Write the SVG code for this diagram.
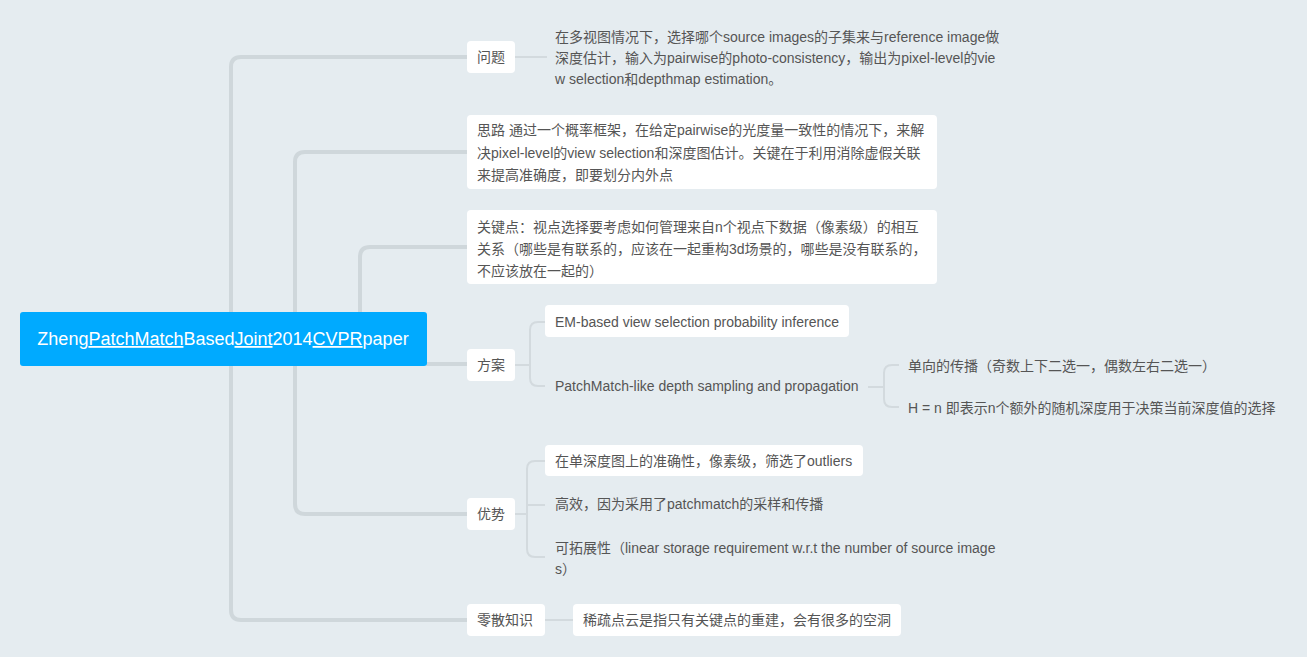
<svg xmlns="http://www.w3.org/2000/svg" width="1307" height="657" viewBox="0 0 1307 657">
<style>
.t{font-family:"Liberation Sans","Noto Sans CJK SC",sans-serif;font-size:14px;fill:#555555}
.box{fill:#ffffff}
.main{fill:none;stroke:#CFD7DB;stroke-width:4;stroke-linecap:round}
.sub{fill:none;stroke:#D3DADE;stroke-width:2}
.root-t{font-family:"Liberation Sans","Noto Sans CJK SC",sans-serif;font-size:18px;fill:#ffffff}
</style>
<rect width="1307" height="657" fill="#E5ECF0"/>
<g id="connectors">
<path class="main" d="M467,57 H241 Q231,57 231,67 V610 Q231,620 241,620 H467"/>
<path class="main" d="M467,152 H305 Q295,152 295,162 V504 Q295,514 305,514 H467"/>
<path class="main" d="M467,247 H370 Q360,247 360,257 V314"/>
<path class="main" d="M427,364 H467"/>
<path class="sub" d="M515,57 H547"/>
<path class="sub" d="M515,365 H530 M545,322 H538 Q530,322 530,330 V378 Q530,386 538,386 H545"/>
<path class="sub" d="M868,387 H884 M899,365 H892 Q884,365 884,373 V399 Q884,407 892,407 H899"/>
<path class="sub" d="M515,514 H527 M545,461 H535 Q527,461 527,469 V549 Q527,557 535,557 H545 M527,505 H545"/>
<path class="sub" d="M545,620 H573"/>
</g>
<g id="root">
<rect x="20" y="312" width="407" height="54" rx="3" fill="#00AAFF"/>
<text class="root-t" x="223" y="345" text-anchor="middle">Zheng<tspan text-decoration="underline">PatchMatch</tspan>Based<tspan text-decoration="underline">Joint</tspan>2014<tspan text-decoration="underline">CVPR</tspan>paper</text>
</g>
<g id="wenti">
<rect class="box" x="467" y="41" width="48" height="32" rx="4"/>
<text class="t" x="477" y="62">问题</text>
</g>
<g id="wenti-detail">
<text class="t" x="555" y="42">在多视图情况下，选择哪个source images的子集来与reference image做</text>
<text class="t" x="555" y="63">深度估计，输入为pairwise的photo-consistency，输出为pixel-level的vie</text>
<text class="t" x="555" y="84">w selection和depthmap estimation。</text>
</g>
<g id="silu">
<rect class="box" x="467" y="115" width="470" height="74" rx="4"/>
<text class="t" x="477" y="135">思路 通过一个概率框架，在给定pairwise的光度量一致性的情况下，来解</text>
<text class="t" x="477" y="158">决pixel-level的view selection和深度图估计。关键在于利用消除虚假关联</text>
<text class="t" x="477" y="180">来提高准确度，即要划分内外点</text>
</g>
<g id="guanjiandian">
<rect class="box" x="467" y="210" width="470" height="74" rx="4"/>
<text class="t" x="477" y="232">关键点：视点选择要考虑如何管理来自n个视点下数据（像素级）的相互</text>
<text class="t" x="477" y="254">关系（哪些是有联系的，应该在一起重构3d场景的，哪些是没有联系的，</text>
<text class="t" x="477" y="276">不应该放在一起的）</text>
</g>
<g id="fangan">
<rect class="box" x="467" y="349" width="48" height="32" rx="4"/>
<text class="t" x="477" y="370">方案</text>
</g>
<g id="em">
<rect class="box" x="545" y="305" width="304" height="32" rx="4"/>
<text class="t" x="555" y="327">EM-based view selection probability inference</text>
</g>
<g id="patchmatch">
<text class="t" x="555" y="391">PatchMatch-like depth sampling and propagation</text>
</g>
<g id="danxiang">
<text class="t" x="908" y="371">单向的传播（奇数上下二选一，偶数左右二选一）</text>
</g>
<g id="hn">
<text class="t" x="908" y="413">H = n 即表示n个额外的随机深度用于决策当前深度值的选择</text>
</g>
<g id="youshi">
<rect class="box" x="467" y="498" width="48" height="32" rx="4"/>
<text class="t" x="477" y="519">优势</text>
</g>
<g id="zhunque">
<rect class="box" x="545" y="445" width="318" height="31" rx="4"/>
<text class="t" x="555" y="466">在单深度图上的准确性，像素级，筛选了outliers</text>
</g>
<g id="gaoxiao">
<text class="t" x="555" y="509">高效，因为采用了patchmatch的采样和传播</text>
</g>
<g id="tuozhan">
<text class="t" x="555" y="553">可拓展性（linear storage requirement w.r.t the number of source image</text>
<text class="t" x="555" y="574">s）</text>
</g>
<g id="lingsan">
<rect class="box" x="467" y="604" width="78" height="32" rx="4"/>
<text class="t" x="477" y="625">零散知识</text>
</g>
<g id="xishu">
<rect class="box" x="573" y="604" width="328" height="32" rx="4"/>
<text class="t" x="583" y="625">稀疏点云是指只有关键点的重建，会有很多的空洞</text>
</g>
</svg>
